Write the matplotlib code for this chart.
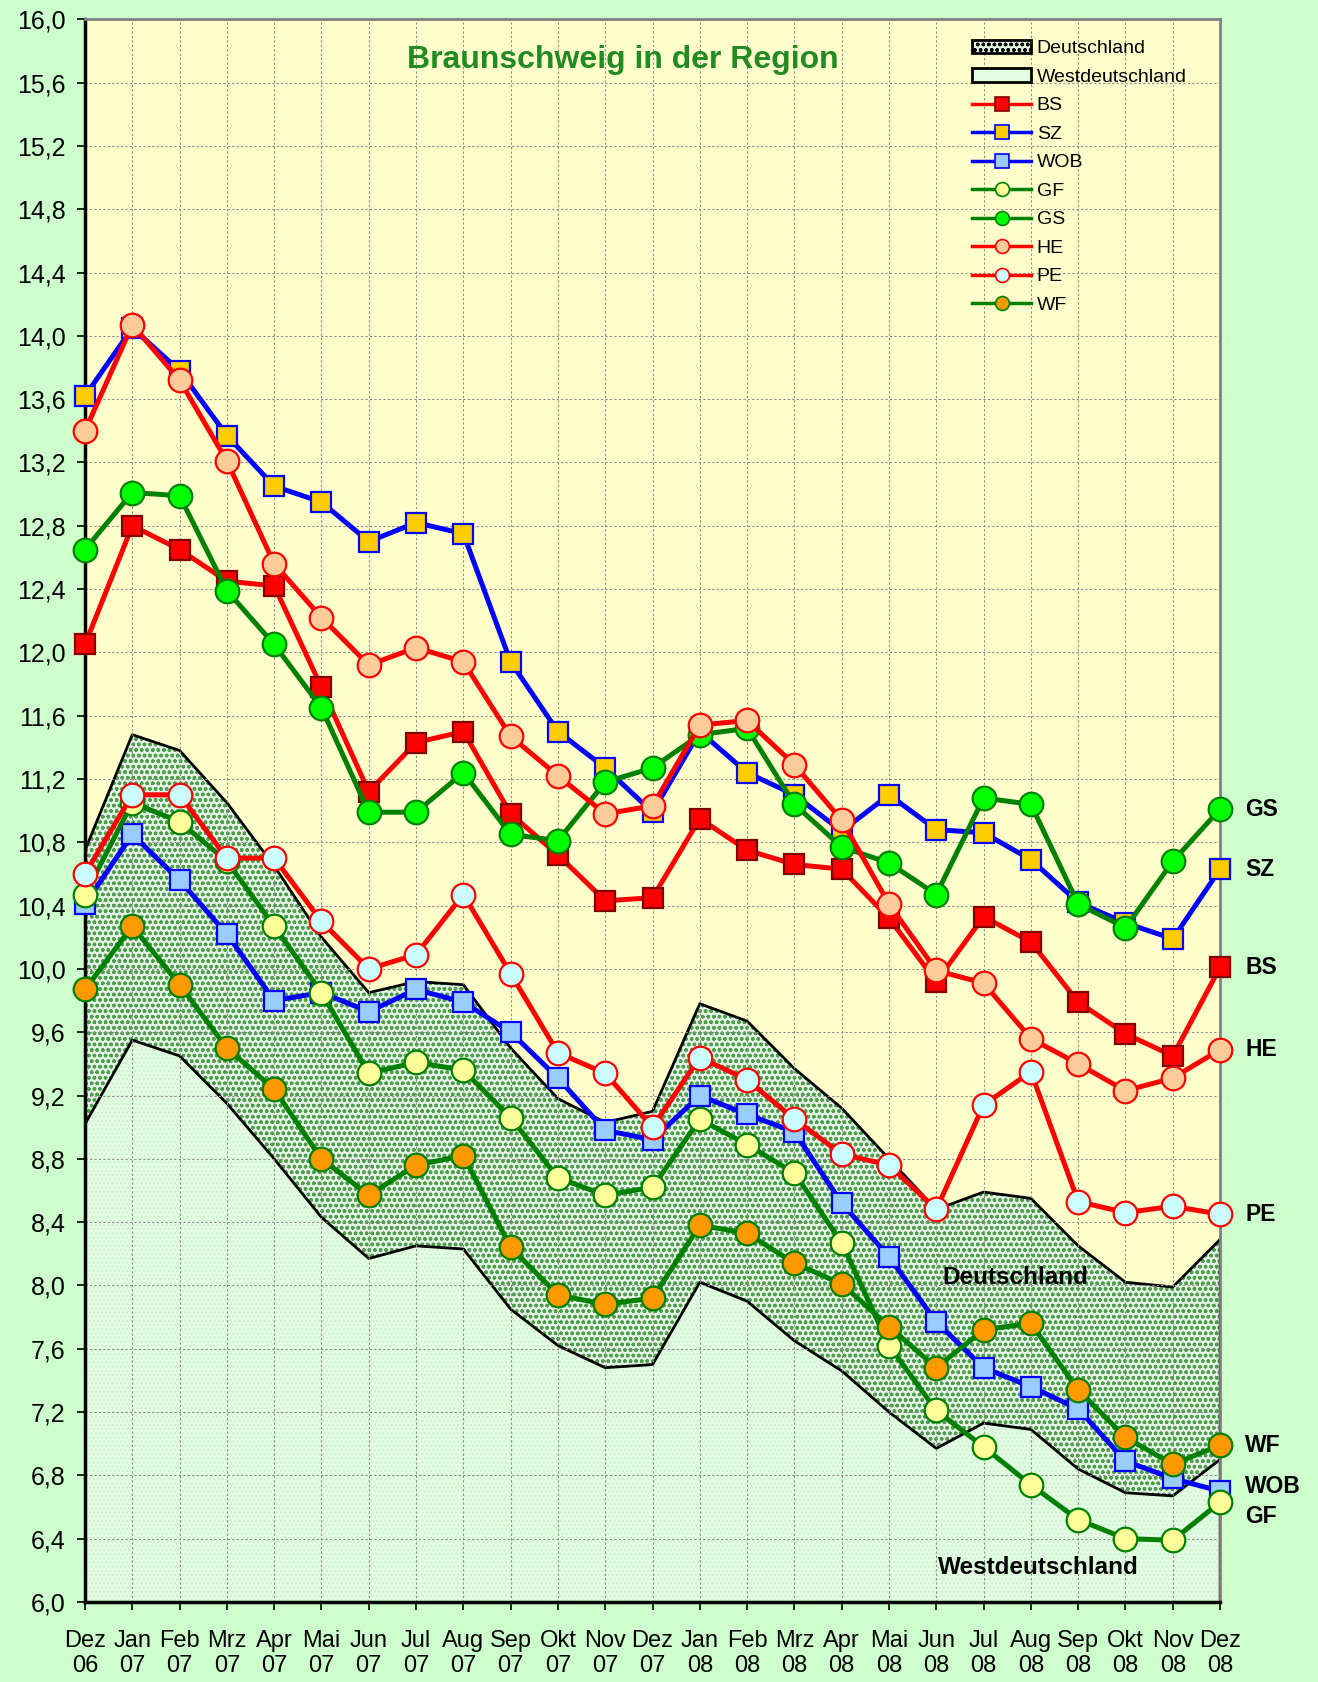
import matplotlib
matplotlib.use("Agg")
import matplotlib.pyplot as plt
from matplotlib.patches import Patch
from matplotlib.lines import Line2D
import matplotlib.ticker as mticker

plt.rcParams['font.family'] = ['Liberation Sans', 'DejaVu Sans']
plt.rcParams['hatch.linewidth'] = 1.0

monate = ["Dez\n06", "Jan\n07", "Feb\n07", "Mrz\n07", "Apr\n07", "Mai\n07", "Jun\n07",
          "Jul\n07", "Aug\n07", "Sep\n07", "Okt\n07", "Nov\n07", "Dez\n07", "Jan\n08",
          "Feb\n08", "Mrz\n08", "Apr\n08", "Mai\n08", "Jun\n08", "Jul\n08", "Aug\n08",
          "Sep\n08", "Okt\n08", "Nov\n08", "Dez\n08"]

deutschland = [10.75, 11.48, 11.38, 11.05, 10.65, 10.2, 9.85, 9.92, 9.9, 9.5, 9.18, 9.03, 9.1,
               9.78, 9.67, 9.37, 9.12, 8.8, 8.48, 8.59, 8.55, 8.25, 8.02, 7.99, 8.29]
westdeutschland = [9.02, 9.55, 9.45, 9.15, 8.8, 8.43, 8.17, 8.25, 8.23, 7.85, 7.62, 7.48, 7.5,
                   8.02, 7.9, 7.65, 7.46, 7.2, 6.97, 7.13, 7.09, 6.84, 6.69, 6.67, 6.9]

bs = [12.05, 12.8, 12.65, 12.45, 12.42, 11.78, 11.12, 11.43, 11.5, 10.98, 10.72, 10.43, 10.45,
      10.95, 10.75, 10.66, 10.63, 10.32, 9.92, 10.33, 10.17, 9.79, 9.59, 9.45, 10.01]
sz = [13.62, 14.05, 13.78, 13.37, 13.05, 12.95, 12.7, 12.82, 12.75, 11.94, 11.5, 11.27, 10.99,
      11.5, 11.24, 11.1, 10.87, 11.1, 10.88, 10.86, 10.69, 10.42, 10.29, 10.19, 10.63]
wob = [10.41, 10.85, 10.56, 10.22, 9.8, 9.85, 9.73, 9.87, 9.79, 9.6, 9.31, 8.98, 8.92,
       9.2, 9.08, 8.97, 8.52, 8.18, 7.77, 7.48, 7.36, 7.22, 6.89, 6.78, 6.7]
gf = [10.47, 11.05, 10.93, 10.68, 10.27, 9.85, 9.34, 9.41, 9.36, 9.06, 8.68, 8.57, 8.62,
      9.05, 8.89, 8.71, 8.27, 7.62, 7.21, 6.98, 6.74, 6.52, 6.4, 6.39, 6.63]
gs = [12.65, 13.01, 12.99, 12.39, 12.05, 11.65, 10.99, 10.99, 11.24, 10.85, 10.81, 11.18, 11.27,
      11.48, 11.52, 11.04, 10.77, 10.67, 10.47, 11.08, 11.04, 10.41, 10.26, 10.68, 11.01]
he = [13.4, 14.07, 13.72, 13.21, 12.56, 12.22, 11.92, 12.03, 11.94, 11.47, 11.22, 10.98, 11.03,
      11.54, 11.57, 11.29, 10.94, 10.41, 9.99, 9.91, 9.56, 9.4, 9.23, 9.31, 9.49]
pe = [10.6, 11.1, 11.1, 10.7, 10.7, 10.3, 10.0, 10.09, 10.47, 9.97, 9.47, 9.34, 9.0,
      9.44, 9.3, 9.05, 8.83, 8.76, 8.48, 9.14, 9.35, 8.53, 8.46, 8.5, 8.45]
wf = [9.87, 10.27, 9.9, 9.5, 9.24, 8.8, 8.57, 8.76, 8.82, 8.24, 7.94, 7.88, 7.92,
      8.38, 8.33, 8.14, 8.01, 7.74, 7.48, 7.72, 7.76, 7.34, 7.04, 6.87, 6.99]

# name, werte, linienfarbe, marker, fuellfarbe, randfarbe, label rechts (y-versatz in punkten)
serien = [
    ("BS", bs, "#FF0000", "s", "#FF0000", "#800000", 0),
    ("SZ", sz, "#0000FF", "s", "#FFCC00", "#0000FF", 0),
    ("WOB", wob, "#0000FF", "s", "#99CCFF", "#0000FF", 3),
    ("GF", gf, "#008000", "o", "#FFFF99", "#008000", -10),
    ("GS", gs, "#008000", "o", "#00FF00", "#008000", 0),
    ("HE", he, "#FF0000", "o", "#FFCC99", "#FF0000", 0),
    ("PE", pe, "#FF0000", "o", "#CCFFFF", "#FF0000", 0),
    ("WF", wf, "#008000", "o", "#FF9900", "#008000", 0),
]

x = list(range(len(monate)))

fig = plt.figure(figsize=(13.18, 16.82), dpi=100)
fig.patch.set_facecolor("#CCFFCC")
ax = fig.add_axes([0.0645, 0.0476, 0.8612, 0.9409])
ax.set_facecolor("#FFFFCC")

# Flaechen
d_face, d_hatch = "#E4F4E4", "#4E9E4E"
w_face = "#E2FDE2"
ax.fill_between(x, 6.0, westdeutschland, facecolor=w_face, edgecolor="#CDF3CD",
                hatch="....", linewidth=0, zorder=0.8)
ax.fill_between(x, westdeutschland, deutschland, facecolor=d_face, edgecolor=d_hatch,
                hatch="ooo", linewidth=0, zorder=0.8)
ax.plot(x, deutschland, color="black", lw=2, zorder=1.2)
ax.plot(x, westdeutschland, color="black", lw=2, zorder=1.2)
ax.plot([x[-1], x[-1]], [6.0, deutschland[-1]], color="black", lw=2.5, zorder=1.2)

for name, werte, lc, m, fc, ec, dy in serien:
    ms = 15 if m == "s" else 17
    ax.plot(x, werte, color=lc, lw=3.6, marker=m, markersize=ms, clip_on=False,
            markerfacecolor=fc, markeredgecolor=ec, markeredgewidth=1.6, zorder=3)
    ax.annotate(name, (x[-1], werte[-1]), xytext=(18, dy), textcoords="offset points",
                ha="left", va="center", fontsize=16.5, fontweight="bold",
                annotation_clip=False)

ax.text(18.12, 8.05, "Deutschland", fontsize=17.5, fontweight="bold", ha="left", va="center", zorder=4)
ax.text(18.04, 6.22, "Westdeutschland", fontsize=17.5, fontweight="bold", ha="left", va="center", zorder=4)

ax.text(0.474, 0.974, "Braunschweig in der Region", transform=ax.transAxes,
        fontsize=23, fontweight="bold", color="#228B22", ha="center", va="center")

ax.set_xlim(0, 24)
ax.set_ylim(6.0, 16.0)
ax.set_xticks(x)
ax.set_xticklabels(monate, fontsize=17, linespacing=1.2)
ax.yaxis.set_major_locator(mticker.MultipleLocator(0.4))
ax.yaxis.set_major_formatter(mticker.FuncFormatter(lambda v, p: f"{v:.1f}".replace(".", ",")))
ax.tick_params(axis="y", labelsize=18, length=6, width=1.2, direction="out", pad=8)
ax.tick_params(axis="x", length=6, width=1.2, direction="out", pad=14)

ax.grid(True, color="#8C8C8C", linestyle=(0, (2, 2)), linewidth=0.8)

for s in ["left", "bottom"]:
    ax.spines[s].set_linewidth(2.5)
    ax.spines[s].set_color("black")
for s in ["top", "right"]:
    ax.spines[s].set_linewidth(2)
    ax.spines[s].set_color("#808080")

handles = [
    Patch(facecolor=d_face, edgecolor=d_hatch, hatch="ooo", linewidth=0),
    Patch(facecolor=w_face, edgecolor="black", linewidth=2),
]
for name, werte, lc, m, fc, ec, dy in serien:
    handles.append(Line2D([0], [0], color=lc, lw=2.5, marker=m, markersize=10,
                          markerfacecolor=fc, markeredgecolor=ec, markeredgewidth=1.2))
labels = ["Deutschland", "Westdeutschland"] + [s[0] for s in serien]
leg = ax.legend(handles, labels, loc="upper left", bbox_to_anchor=(0.775, 0.992),
                frameon=False, fontsize=14, handlelength=3.0, labelspacing=0.56,
                handletextpad=0.3, borderaxespad=0)
leg.legend_handles[0].set_edgecolor("black")
leg.legend_handles[0].set_linewidth(2)

fig.savefig("out.png", dpi=100, facecolor=fig.get_facecolor())
